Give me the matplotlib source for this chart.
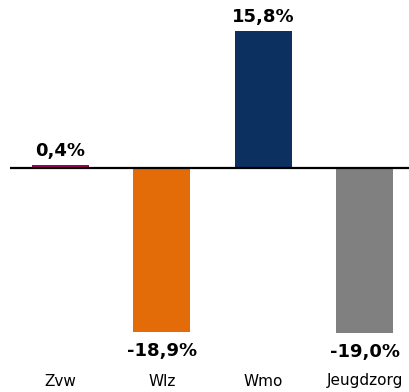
import matplotlib.pyplot as plt

# Procentuele verandering per domein
categories = ['Zvw', 'Wlz', 'Wmo', 'Jeugdzorg']
values = [0.4, -18.9, 15.8, -19.0]
colors = ['#a3005c', '#e36c09', '#0c3160', '#808080']

fig = plt.figure(figsize=(4.09, 3.92), dpi=100)
ax = fig.add_axes([10 / 409, 0, 399 / 409, 1])

x = range(len(categories))
ax.bar(x, values, width=0.5625, color=colors, zorder=2)
ax.axhline(0, color='black', linewidth=1.6, zorder=3)

for i, v in enumerate(values):
    label = f'{v:.1f}%'.replace('.', ',')
    if v >= 0:
        ax.annotate(label, (i, v), xytext=(0, 5), textcoords='offset pixels',
                    ha='center', va='bottom', fontsize=13, fontweight='bold')
    else:
        ax.annotate(label, (i, v), xytext=(0, -10), textcoords='offset pixels',
                    ha='center', va='top', fontsize=13, fontweight='bold')

for i, cat in enumerate(categories):
    ax.annotate(cat, (i, 0), xycoords=('data', 'axes fraction'),
                xytext=(0, 11), textcoords='offset pixels',
                ha='center', va='center', fontsize=11)

ax.set_xlim(-0.498, 3.439)
ax.set_ylim(-25.84, 19.38)
ax.axis('off')

fig.savefig('out.png', dpi=100)
